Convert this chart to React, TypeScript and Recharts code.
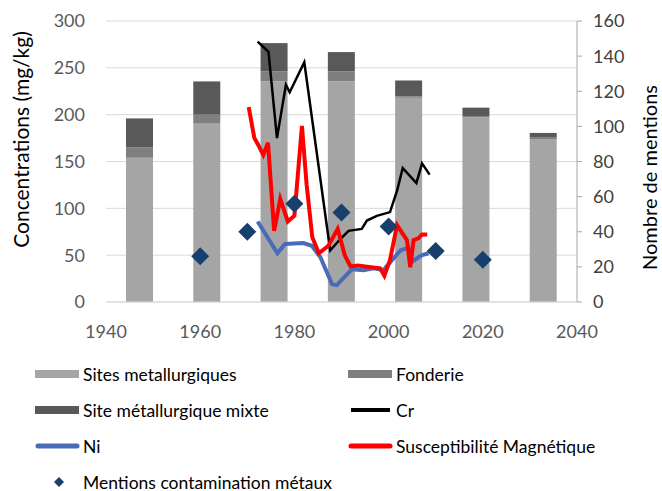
import {
  Bar,
  CartesianGrid,
  ComposedChart,
  Label,
  Legend,
  Line,
  Scatter,
  XAxis,
  YAxis,
} from "recharts";

// barres empilées (une par période)
const periodes = ["P1", "P2", "P3", "P4", "P5", "P6", "P7"];
const sitesMetallurgiques = [154, 191, 235.5, 235.5, 218, 197, 174];
const fonderie = [11, 9, 10.7, 10.7, 1.5, 1.5, 1.5];
const siteMixte = [31, 35.5, 30.2, 20.6, 17, 9, 5];

// courbes (mg/kg)
const crAnnees = [1972.2, 1974.5, 1976.3, 1978.2, 1979.0, 1982.1, 1987.6, 1989.7, 1991.5, 1994.3, 1995.4, 1997.5, 2000.3, 2001.8, 2003.0, 2005.9, 2007.1, 2008.7];
const crValeurs = [278, 267, 175, 232, 224, 256, 55, 67, 76, 78, 87, 92, 96, 119, 143, 127, 148, 136];

const niAnnees = [1972.2, 1976.4, 1978.0, 1981.9, 1983.7, 1985.5, 1988.0, 1989.0, 1992.2, 1994.7, 1996.8, 1998.9, 2002.5, 2004.2, 2005.0, 2006.4, 2007.1, 2008.5];
const niValeurs = [86, 52, 62, 63, 60, 48, 19, 18, 35, 34, 36, 34, 55, 58, 43, 48, 50, 52];

const susAnnees = [1970.3, 1971.5, 1972.5, 1973.4, 1974.4, 1975.7, 1977.0, 1978.6, 1980.0, 1981.6, 1982.6, 1983.8, 1985.2, 1987.2, 1989.2, 1990.7, 1991.9, 1993.5, 1995.0, 1998.2, 1999.1, 2000.3, 2001.8, 2002.6, 2003.9, 2004.6, 2005.3, 2006.3, 2007.1, 2008.2];
const susValeurs = [208, 175, 166, 157, 170, 76, 110, 86, 92, 188, 125, 69, 52, 60, 78, 50, 38, 39, 38, 36, 28, 45, 82, 76, 66, 37, 66, 68, 72, 72];

// mentions (axe de droite)
const mentionsAnnees = [1960, 1970, 1980, 1990, 2000, 2010, 2020];
const mentionsNombre = [26, 40, 56, 51, 43, 29, 24];

const anneeTicks = [1940, 1960, 1980, 2000, 2020, 2040];
const concTicks = [0, 50, 100, 150, 200, 250, 300];
const mentionsTicks = [0, 20, 40, 60, 80, 100, 120, 140, 160];

const barres = periodes.map((periode, i) => ({
  periode,
  sites: sitesMetallurgiques[i],
  fonderie: fonderie[i],
  mixte: siteMixte[i],
}));
const serie = (annees: number[], valeurs: number[]) =>
  annees.map((annee, i) => ({ annee, valeur: valeurs[i] }));
const crData = serie(crAnnees, crValeurs);
const niData = serie(niAnnees, niValeurs);
const susData = serie(susAnnees, susValeurs);
const mentionsData = mentionsAnnees.map((annee, i) => ({ annee, mentions: mentionsNombre[i] }));

const FONT = "Lato, 'Open Sans', sans-serif";
const C = {
  sites: "#a5a5a5",
  fonderie: "#7f7f7f",
  mixte: "#595959",
  cr: "#000000",
  ni: "#4a6bb8",
  sus: "#ff0000",
  mentions: "#17406d",
};

const Losange = (props: any) => {
  const { cx, cy } = props;
  const r = 9;
  return <polygon points={`${cx},${cy - r} ${cx + r},${cy} ${cx},${cy + r} ${cx - r},${cy}`} fill={C.mentions} />;
};

const legendeItems = [
  { nom: "Sites metallurgiques", type: "rect", couleur: C.sites },
  { nom: "Fonderie", type: "rect", couleur: C.fonderie },
  { nom: "Site métallurgique mixte", type: "rect", couleur: C.mixte },
  { nom: "Cr", type: "line", couleur: C.cr },
  { nom: "Ni", type: "line", couleur: C.ni },
  { nom: "Susceptibilité Magnétique", type: "line", couleur: C.sus },
  { nom: "Mentions contamination métaux", type: "diamond", couleur: C.mentions },
];

function Legende() {
  return (
    <div style={{ position: "relative", width: 662, height: 134, fontFamily: FONT, fontSize: 17.5, color: "#000" }}>
      {legendeItems.map((it, i) => {
        const col = i % 2;
        const row = Math.floor(i / 2);
        return (
          <div
            key={it.nom}
            style={{
              position: "absolute",
              left: col === 0 ? 35 : 348,
              top: row * 36,
              height: 36,
              display: "flex",
              alignItems: "center",
              whiteSpace: "nowrap",
            }}
          >
            <svg width={47} height={12} style={{ marginRight: 1 }}>
              {it.type === "rect" && <rect x={0} y={2} width={44} height={8} fill={it.couleur} />}
              {it.type === "line" && (
                <line x1={3} y1={6} x2={42} y2={6} stroke={it.couleur} strokeWidth={it.nom === "Cr" ? 4 : 5} strokeLinecap={it.nom === "Cr" ? "butt" : "round"} />
              )}
              {it.type === "diamond" && <polygon points="24,1 29,6 24,11 19,6" fill={it.couleur} />}
            </svg>
            <span>{it.nom}</span>
          </div>
        );
      })}
    </div>
  );
}

export default function App() {
  return (
    <div style={{ position: "absolute", left: 0, top: 0, background: "#fff" }}>
      <ComposedChart
        width={662}
        height={491}
        data={barres}
        margin={{ top: 21, right: 0, left: 0, bottom: 159 }}
        style={{ fontFamily: FONT }}
      >
        <CartesianGrid xAxisId="annee" yAxisId="gauche" vertical={false} stroke="#d9d9d9" />
        <XAxis xAxisId="cat" dataKey="periode" type="category" hide />
        <XAxis
          xAxisId="annee"
          dataKey="annee"
          type="number"
          domain={[1940, 2040]}
          ticks={anneeTicks}
          height={30}
          tickLine={false}
          tickMargin={17}
          axisLine={{ stroke: "#d9d9d9" }}
          tick={{ fill: "#595959", fontSize: 18 }}
        />
        <YAxis
          yAxisId="gauche"
          domain={[0, 300]}
          ticks={concTicks}
          width={106}
          axisLine={false}
          tickLine={false}
          tickMargin={15}
          tick={{ fill: "#595959", fontSize: 18 }}
        >
          <Label
            content={({ viewBox }: any) => (
              <text
                transform={`translate(${viewBox.x + 20},${viewBox.y + viewBox.height / 2 - 22}) rotate(-90)`}
                textAnchor="middle"
                dominantBaseline="central"
                fontSize={21}
                fill="#000"
              >
                Concentrations (mg/kg)
              </text>
            )}
          />
        </YAxis>
        <YAxis
          yAxisId="droite"
          orientation="right"
          domain={[0, 160]}
          ticks={mentionsTicks}
          width={85}
          axisLine={{ stroke: "#a6a6a6" }}
          tickLine={{ stroke: "#a6a6a6" }}
          tickSize={5}
          tickMargin={11}
          tick={{ fill: "#404040", fontSize: 18 }}
        >
          <Label
            content={({ viewBox }: any) => (
              <text
                transform={`translate(${viewBox.x + 72},${viewBox.y + viewBox.height / 2 + 16}) rotate(-90)`}
                textAnchor="middle"
                dominantBaseline="central"
                fontSize={20}
                fill="#000"
              >
                Nombre de mentions
              </text>
            )}
          />
        </YAxis>
        <Legend
          verticalAlign="middle"
          align="center"
          layout="horizontal"
          content={() => <Legende />}
          wrapperStyle={{ top: 356, left: 0, width: 662, height: 134 }}
        />
        <Bar xAxisId="cat" yAxisId="gauche" dataKey="sites" stackId="a" fill={C.sites} barSize={27} isAnimationActive={false} />
        <Bar xAxisId="cat" yAxisId="gauche" dataKey="fonderie" stackId="a" fill={C.fonderie} barSize={27} isAnimationActive={false} />
        <Bar xAxisId="cat" yAxisId="gauche" dataKey="mixte" stackId="a" fill={C.mixte} barSize={27} isAnimationActive={false} />
        <Line xAxisId="annee" yAxisId="gauche" data={crData} dataKey="valeur" stroke={C.cr} strokeWidth={2.5} dot={false} type="linear" isAnimationActive={false} />
        <Line xAxisId="annee" yAxisId="gauche" data={niData} dataKey="valeur" stroke={C.ni} strokeWidth={4} dot={false} type="linear" isAnimationActive={false} />
        <Line xAxisId="annee" yAxisId="gauche" data={susData} dataKey="valeur" stroke={C.sus} strokeWidth={4} dot={false} type="linear" isAnimationActive={false} />
        <Scatter xAxisId="annee" yAxisId="droite" data={mentionsData} dataKey="mentions" shape={Losange} isAnimationActive={false} />
      </ComposedChart>
    </div>
  );
}
